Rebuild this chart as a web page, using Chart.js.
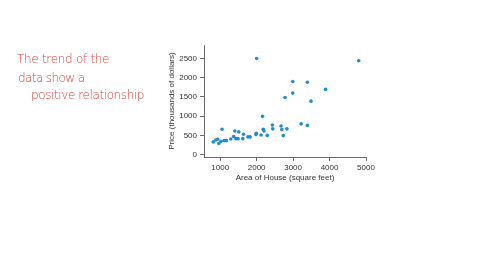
<!DOCTYPE html>
<html>
<head>
<meta charset="utf-8">
<script src="https://cdn.jsdelivr.net/npm/chart.js@4/dist/chart.umd.min.js"></script>
<style>
  html, body { margin: 0; padding: 0; background: #fff; }
  #wrap { position: relative; width: 480px; height: 270px; }
  canvas { position: absolute; left: 0; top: 0; }
  .note { position: absolute; color: #d6443e; font-family: "DejaVu Sans", sans-serif; font-weight: 200; font-size: 12px; white-space: nowrap; }
</style>
</head>
<body>
<div id="wrap">
  <canvas id="c" width="480" height="270"></canvas>
  <div class="note" style="left:17px; top:52px; letter-spacing:-0.3px;">The trend of the</div>
  <div class="note" style="left:18px; top:71px; letter-spacing:-0.6px;">data show a</div>
  <div class="note" style="left:31px; top:88px; letter-spacing:-0.4px;">positive relationship</div>
</div>
<script>
const areaSqft = [810, 880, 930, 960, 1020, 1050, 1110, 1170, 1290, 1370, 1400, 1430, 1490, 1510, 1620, 1640, 1760, 1820, 1980, 1990, 2000, 2120, 2160, 2180, 2200, 2290, 2430, 2440, 2670, 2690, 2730, 2780, 2830, 2990, 2990, 3220, 3390, 3390, 3490, 3890, 4800];
const priceK   = [330, 380, 400, 290, 345, 660, 365, 365, 405, 470, 615, 415, 415, 590, 415, 530, 460, 460, 520, 555, 2500, 510, 995, 660, 615, 500, 770, 670, 745, 650, 495, 1485, 670, 1900, 1600, 800, 760, 1880, 1390, 1695, 2440];
const xTicks = [1000, 2000, 3000, 4000, 5000];
const yTicks = [0, 500, 1000, 1500, 2000, 2500];
const xTitle = "Area of House (square feet)";
const yTitle = "Price (thousands of dollars)";

const pts = areaSqft.map((x, i) => ({ x: x, y: priceK[i] }));
const font = { family: "Liberation Sans, Arial, sans-serif", size: 8 };
const axisColor = "#444";

new Chart(document.getElementById("c"), {
  type: "scatter",
  data: { datasets: [{ data: pts, backgroundColor: "#1f8ccc", borderColor: "#1f8ccc", pointRadius: 1.8, borderWidth: 0 }] },
  options: {
    responsive: false, animation: false,
    layout: { padding: { left: 160, top: 45, right: 114, bottom: 87 } },
    plugins: { legend: { display: false }, tooltip: { enabled: false } },
    scales: {
      x: {
        type: "linear", min: 555, max: 5000,
        afterBuildTicks: s => { s.ticks = xTicks.map(v => ({ value: v })); },
        afterFit: s => { s.height = 26; },
        ticks: { font: font, color: "#333", padding: 2, maxRotation: 0, callback: v => String(v) },
        grid: { drawOnChartArea: false, drawTicks: true, tickLength: 4, color: axisColor, lineWidth: 0.8 },
        border: { display: true, color: axisColor, width: 0.8 },
        title: { display: true, text: xTitle, font: font, color: "#333", padding: { top: 0, bottom: 0 } }
      },
      y: {
        type: "linear", min: -62, max: 2850,
        afterBuildTicks: s => { s.ticks = yTicks.map(v => ({ value: v })); },
        afterFit: s => { s.width = 44; },
        ticks: { font: font, color: "#333", padding: 3, callback: v => String(v) },
        grid: { drawOnChartArea: false, drawTicks: true, tickLength: 4, color: axisColor, lineWidth: 0.8 },
        border: { display: true, color: axisColor, width: 0.8 },
        title: { display: true, text: yTitle, font: font, color: "#333", padding: { top: 7, bottom: 0 } }
      }
    }
  }
});
</script>
</body>
</html>
